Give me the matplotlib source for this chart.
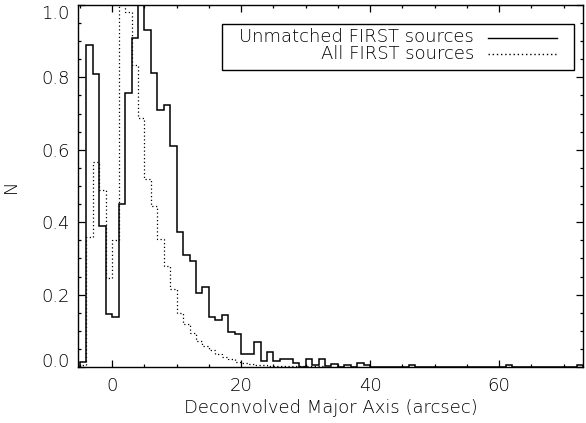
import numpy as np
import matplotlib
matplotlib.use("Agg")
import matplotlib.pyplot as plt
from matplotlib.ticker import MultipleLocator, FormatStrFormatter
from matplotlib.lines import Line2D
from matplotlib.patches import Rectangle

# 1 arcsec bins, edges -6 ... 74
bin_edges = np.arange(-6, 75)

# normalised counts, unmatched FIRST sources
unmatched = [
    0.0, 0.015, 0.89, 0.81, 0.39, 0.146, 0.139, 0.45, 0.758, 0.91,   # -6 .. 3
    1.0, 0.93, 0.813, 0.71, 0.723, 0.61, 0.373, 0.309, 0.292, 0.205, # 4 .. 13
    0.22, 0.139, 0.131, 0.143, 0.097, 0.09, 0.036, 0.036, 0.069, 0.016,  # 14 .. 23
    0.041, 0.016, 0.021, 0.021, 0.01, 0.0, 0.021, 0.005, 0.021, 0.003,   # 24 .. 33
    0.008, 0.0, 0.005, 0.0, 0.012, 0.005, 0.0, 0.0, 0.0, 0.0,            # 34 .. 43
    0.0, 0.0, 0.005, 0.0, 0.0, 0.0, 0.0, 0.0, 0.0, 0.0,                  # 44 .. 53
    0.0, 0.0, 0.0, 0.0, 0.0, 0.0, 0.0, 0.005, 0.0, 0.0,                  # 54 .. 63
    0.0, 0.0, 0.0, 0.0, 0.0, 0.0, 0.0, 0.0, 0.005, 0.0,                  # 64 .. 73
]

# normalised counts, all FIRST sources
all_first = [
    0.0, 0.005, 0.36, 0.567, 0.49, 0.245, 0.35, 1.0, 0.98, 0.833,        # -6 .. 3
    0.688, 0.52, 0.445, 0.354, 0.28, 0.215, 0.148, 0.12, 0.094, 0.072,   # 4 .. 13
    0.058, 0.046, 0.036, 0.028, 0.021, 0.015, 0.01, 0.008, 0.006, 0.005, # 14 .. 23
    0.004, 0.004, 0.003, 0.003, 0.003, 0.002, 0.002, 0.002, 0.002, 0.001,  # 24 .. 33
    0.001, 0.001, 0.001, 0.001, 0.001, 0.001, 0.0, 0.0, 0.0, 0.0,       # 34 .. 43
    0.0, 0.0, 0.0, 0.0, 0.0, 0.0, 0.0, 0.0, 0.0, 0.0,                    # 44 .. 53
    0.0, 0.0, 0.0, 0.0, 0.0, 0.0, 0.0, 0.0, 0.0, 0.0,                    # 54 .. 63
    0.0, 0.0, 0.0, 0.0, 0.0, 0.0, 0.0, 0.0, 0.0, 0.0,                    # 64 .. 73
]

legend_labels = ["Unmatched FIRST sources", "All FIRST sources"]
y_ticks = [0.0, 0.2, 0.4, 0.6, 0.8, 1.0]

plt.rcParams["font.family"] = "DejaVu Sans"
plt.rcParams["font.weight"] = "light"
plt.rcParams["axes.labelweight"] = "light"
FS = 13
W, H = 586, 423


def fpos(x, y):
    # pixel position (origin top-left) -> figure fraction
    return x / W, 1 - y / H


fig = plt.figure(figsize=(W / 100, H / 100), dpi=100)
ax = fig.add_axes([78 / W, 1 - 367 / H, (583 - 78) / W, (367 - 5) / H])

ax.stairs(unmatched, bin_edges, color="black", linewidth=1.1)
ax.stairs(all_first, bin_edges, color="black", linewidth=0.9,
          linestyle=(0, (1, 2)))

ax.set_xlim(-5.3, 73)
ax.set_ylim(0, 1.0)
ax.xaxis.set_major_locator(MultipleLocator(20))
ax.xaxis.set_minor_locator(MultipleLocator(5))
ax.set_yticks(y_ticks)
ax.yaxis.set_minor_locator(MultipleLocator(0.05))
ax.yaxis.set_major_formatter(FormatStrFormatter("%.1f"))
ax.tick_params(which="both", direction="in", top=True, right=True,
               width=0.9, labelsize=FS)
ax.tick_params(which="major", length=5)
ax.tick_params(which="minor", length=2.5)
ax.tick_params(axis="x", pad=7)
ax.tick_params(axis="y", pad=6)
for sp in ax.spines.values():
    sp.set_linewidth(1.0)

# keep the end labels of the y axis inside the frame height
yt = ax.yaxis.get_major_ticks()
yt[0].label1.set_verticalalignment("baseline")
yt[-1].label1.set_verticalalignment("top")

ax.set_xlabel("Deconvolved Major Axis (arcsec)", fontsize=FS, labelpad=3)
ax.set_ylabel("N", fontsize=FS, labelpad=15)

# IDL-style legend: right-aligned labels, line samples on the right
x0, y0 = fpos(222, 70)
x1, y1 = fpos(574, 24)
fig.add_artist(Rectangle((x0, y0), x1 - x0, y1 - y0, transform=fig.transFigure,
                         facecolor="white", edgecolor="black", linewidth=1.0))
styles = ["-", (0, (1, 2))]
for label, line_y, ls in zip(legend_labels, [38, 54.5], styles):
    tx, ty = fpos(474, line_y + 4.5)
    fig.text(tx, ty, label, ha="right", va="baseline", fontsize=FS)
    lx0, ly = fpos(488, line_y)
    lx1, _ = fpos(557, line_y)
    fig.add_artist(Line2D([lx0, lx1], [ly, ly], transform=fig.transFigure,
                          color="black", linewidth=1.0, linestyle=ls))

fig.savefig("out.png", dpi=100)
